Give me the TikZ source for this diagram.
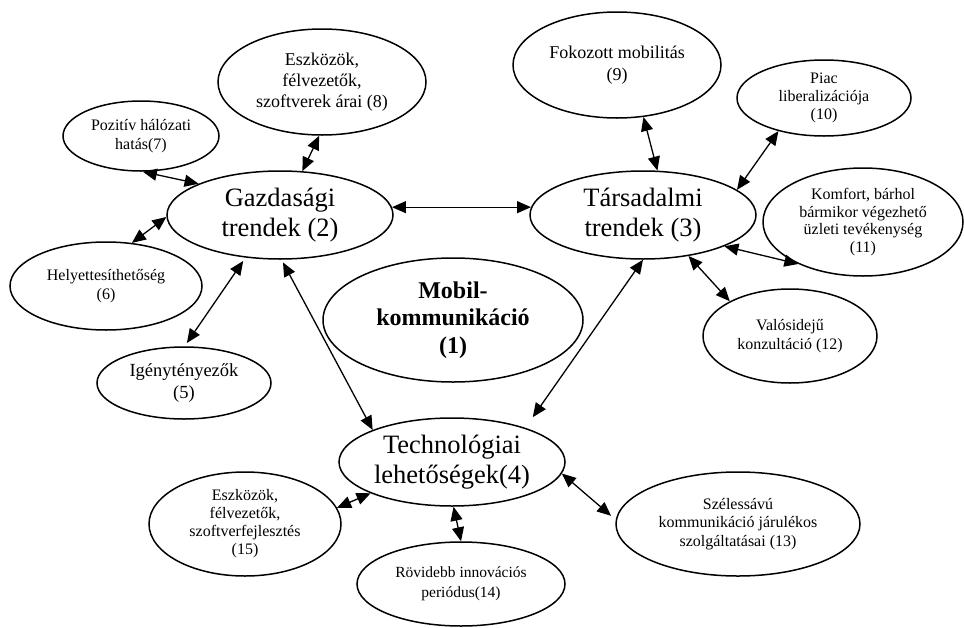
\documentclass[tikz,border=0pt]{standalone}
\usepackage{fontspec}
\setmainfont{Liberation Serif}
\usetikzlibrary{shapes.geometric,arrows.meta}
\begin{document}
\begin{tikzpicture}[x=1pt,y=-1pt,
  >={Triangle[length=14pt,width=12pt]},
  el/.style={ellipse,draw,line width=1.5pt,inner sep=0pt,align=center},
  big/.style={font=\fontsize{26.5}{30}\selectfont,minimum width=226pt,minimum height=88pt},
  link/.style={<->,line width=1.3pt}]
\useasboundingbox (0,0) rectangle (964,627);
% main nodes
\node[el,big] (g) at (280,215) {Gazdasági\\trendek (2)};
\node[el,big] (t) at (643,215) {Társadalmi\\trendek (3)};
\node[el,big] (tech) at (452,462) {Technológiai\\lehetőségek(4)};
\node[el,font=\bfseries\fontsize{24}{27.5}\selectfont,minimum width=260pt,minimum height=124pt] (m) at (453,320) {Mobil-\\kommunikáció\\(1)};
% satellites
\node[el,font=\fontsize{18}{21}\selectfont,minimum width=208pt,minimum height=106pt] (n8) at (322,82) {Eszközök,\\félvezetők,\\szoftverek árai (8)};
\node[el,font=\fontsize{16}{19}\selectfont,minimum width=156pt,minimum height=70pt] (n7) at (141,136) {Pozitív hálózati\\hatás(7)};
\node[el,font=\fontsize{16}{19}\selectfont,minimum width=192pt,minimum height=88pt] (n6) at (106,286) {Helyettesíthetőség\\(6)};
\node[el,font=\fontsize{18.5}{21.5}\selectfont,minimum width=174pt,minimum height=72pt] (n5) at (184,383) {Igénytényezők\\(5)};
\node[el,font=\fontsize{18}{22}\selectfont,minimum width=208pt,minimum height=106pt] (n9) at (617,65) {Fokozott mobilitás\\(9)};
\node[el,font=\fontsize{16}{18}\selectfont,minimum width=174pt,minimum height=76pt] (n10) at (824,98) {Piac\\liberalizációja\\(10)};
\node[el,font=\fontsize{16}{17.7}\selectfont,minimum width=200pt,minimum height=108pt] (n11) at (863,222) {Komfort, bárhol\\bármikor végezhető\\üzleti tevékenység\\(11)};
\node[el,font=\fontsize{16}{19}\selectfont,minimum width=174pt,minimum height=94pt] (n12) at (790,336) {Valósidejű\\konzultáció (12)};
\node[el,font=\fontsize{16}{18.5}\selectfont,minimum width=244pt,minimum height=104pt] (n13) at (738,524) {Szélessávú\\kommunikáció járulékos\\szolgáltatásai (13)};
\node[el,font=\fontsize{15.5}{20}\selectfont,minimum width=208pt,minimum height=84pt] (n14) at (461,584) {Rövidebb innovációs\\periódus(14)};
\node[el,font=\fontsize{16}{18}\selectfont,minimum width=192pt,minimum height=104pt] (n15) at (245,524) {Eszközök,\\félvezetők,\\szoftverfejlesztés\\(15)};
% connectors
\draw[link] (g.4) -- (t.176);
\draw[link] (n7.273) -- (g.159);
\draw[link] (n8.267) -- (g.63);
\draw[link] (n6.59) -- (g.181);
\draw[link,shorten <=4pt,shorten >=4pt] (n5.89) -- (g.231);
\draw[link,shorten <=3pt] (g.272) -- (tech.158);
\draw[link,shorten >=13pt] (t.270) -- (tech.25);
\draw[link] (n9.297) -- (t.72);
\draw[link] (n10.216) -- (t.15);
\draw[link] (t.339) -- (n11.213);
\draw[link] (t.318) -- (n12.150);
\draw[link] (tech.201) -- (n15.10);
\draw[link] (tech.272) -- (n14.90);
\draw[link,shorten >=6pt] (tech.354) -- (n13.178);
\end{tikzpicture}
\end{document}
